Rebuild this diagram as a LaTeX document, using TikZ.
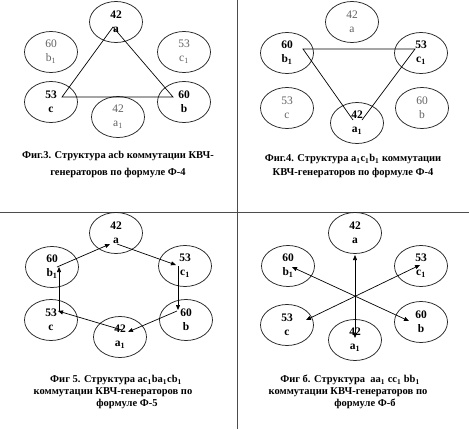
\documentclass[tikz,border=0pt]{standalone}
\usepackage{fontspec}
\setmainfont{Liberation Serif}
\usetikzlibrary{arrows.meta,shapes.geometric}
\begin{document}
\begin{tikzpicture}[x=1pt,y=-1pt,
  gen/.style={ellipse, draw=black!85, line width=0.75pt, minimum width=53pt, minimum height=41pt, inner sep=0pt, align=center},
  on/.style={gen, font=\fontsize{11.5}{14}\selectfont\bfseries, text=black},
  off/.style={gen, font=\fontsize{11.5}{14}\selectfont, text=black!62},
  captxt/.style={font=\fontsize{10.5}{12}\selectfont\bfseries, inner sep=0pt},
  link/.style={line width=0.7pt, draw=black},
  arr/.style={link, -{Triangle[length=5pt,width=4pt]}},
  both/.style={link, {Triangle[length=5pt,width=4pt]}-{Triangle[length=5pt,width=4pt]}},
  frame/.style={draw=black!70, line width=1.3pt}
]
\useasboundingbox (0,0) rectangle (469,429);
% frame dividers
\coordinate (vt) at (237.5,0);
\coordinate (vb) at (237.5,429);
\coordinate (hl) at (0,212.5);
\coordinate (hr) at (469,212.5);
\draw[frame] (vt) -- (vb);
\draw[frame] (hl) -- (hr);

% ---------- Panel 1 ----------
\node[on]  (p1a)  at (116,22)  {42\\a};
\node[off] (p1b1) at (51,52)   {60\\b\textsubscript{1}};
\node[off] (p1c1) at (184,52)  {53\\c\textsubscript{1}};
\node[on]  (p1c)  at (51,102)  {53\\c};
\node[on]  (p1b)  at (184,102) {60\\b};
\node[off] (p1a1) at (118,117) {42\\a\textsubscript{1}};
\coordinate (t1a) at ([shift={(-3,5)}]p1a.center);
\coordinate (t1c) at ([shift={(11,-5)}]p1c.center);
\coordinate (t1b) at ([shift={(-11,-5)}]p1b.center);
\draw[link] (t1a) -- (t1c) -- (t1b) -- cycle;
\node[captxt] (cap1a) at (118,156) {Фиг.3. Структура acb коммутации КВЧ-};
\node[captxt] (cap1b) at (118,173) {генераторов по формуле Ф-4};

% ---------- Panel 2 ----------
\node[off] (p2a)  at (352,22)  {42\\a};
\node[on]  (p2b1) at (287,53)  {60\\b\textsubscript{1}};
\node[on]  (p2c1) at (421,53)  {53\\c\textsubscript{1}};
\node[off] (p2c)  at (287,108) {53\\c};
\node[off] (p2b)  at (422,108) {60\\b};
\node[on]  (p2a1) at (357,123) {42\\a\textsubscript{1}};
\coordinate (t2b1) at ([shift={(16,-4)}]p2b1.center);
\coordinate (t2c1) at ([shift={(-6,-4)}]p2c1.center);
\coordinate (t2a1l) at ([shift={(-4,-3)}]p2a1.center);
\coordinate (t2a1r) at ([shift={(5,-3)}]p2a1.center);
\draw[link] (t2a1l) -- (t2b1) -- (t2c1) -- (t2a1r);
\node[captxt] (cap2a) at (353,159) {Фиг.4. Структура a\textsubscript{1}c\textsubscript{1}b\textsubscript{1} коммутации};
\node[captxt] (cap2b) at (353,173) {КВЧ-генераторов по формуле Ф-4};

% ---------- Panel 3 ----------
\node[on] (p3a)  at (116,233) {42\\a};
\node[on] (p3b1) at (52,267)  {60\\b\textsubscript{1}};
\node[on] (p3c1) at (185,266) {53\\c\textsubscript{1}};
\node[on] (p3c)  at (51,320)  {53\\c};
\node[on] (p3b)  at (186,320) {60\\b};
\node[on] (p3a1) at (120,337) {42\\a\textsubscript{1}};
\coordinate (q3a1) at ([shift={(-6,11)}]p3a.center);
\coordinate (q3a2) at ([shift={(1,11)}]p3a.center);
\coordinate (q3c1a) at ([shift={(-9,-1)}]p3c1.center);
\coordinate (q3c1b) at ([shift={(-7,0)}]p3c1.center);
\coordinate (q3ba) at ([shift={(-8,-10)}]p3b.center);
\coordinate (q3bb) at ([shift={(-9,-9)}]p3b.center);
\coordinate (q3a1a) at ([shift={(8,-5)}]p3a1.center);
\coordinate (q3a1b) at ([shift={(2,-7)}]p3a1.center);
\coordinate (q3ca) at ([shift={(7,-9)}]p3c.center);
\coordinate (q3cb) at ([shift={(8,-9)}]p3c.center);
\coordinate (q3b1a) at ([shift={(7,0)}]p3b1.center);
\coordinate (q3b1b) at ([shift={(5,0)}]p3b1.center);
\draw[arr] (q3a2) -- (q3c1a);
\draw[arr] (q3c1b) -- (q3ba);
\draw[arr] (q3bb) -- (q3a1a);
\draw[arr] (q3a1b) -- (q3ca);
\draw[arr] (q3cb) -- (q3b1a);
\draw[arr] (q3b1b) -- (q3a1);
\node[captxt] (cap3a) at (116,380) {Фиг 5. Структура ac\textsubscript{1}ba\textsubscript{1}cb\textsubscript{1}};
\node[captxt] (cap3b) at (113,392) {коммутации КВЧ-генераторов по};
\node[captxt] (cap3c) at (127,404) {формуле Ф-5};

% ---------- Panel 4 ----------
\node[on] (p4a)  at (355,233) {42\\a};
\node[on] (p4b1) at (288,266) {60\\b\textsubscript{1}};
\node[on] (p4c1) at (421,266) {53\\c\textsubscript{1}};
\node[on] (p4c)  at (287,325) {53\\c};
\node[on] (p4b)  at (421,322) {60\\b};
\node[on] (p4a1) at (355,340) {42\\a\textsubscript{1}};
\coordinate (r4a) at ([shift={(0,22)}]p4a.center);
\coordinate (r4a1) at ([shift={(0,-2)}]p4a1.center);
\coordinate (r4b1) at ([shift={(4,1)}]p4b1.center);
\coordinate (r4b) at ([shift={(-12,-1)}]p4b.center);
\coordinate (r4c1) at ([shift={(-1,-1)}]p4c1.center);
\coordinate (r4c) at ([shift={(19,-5)}]p4c.center);
\draw[both] (r4a) -- (r4a1);
\draw[both] (r4b1) -- (r4b);
\draw[both] (r4c1) -- (r4c);
\node[captxt] (cap4a) at (350,380) {Фиг б. Структура\ \ aa\textsubscript{1} cc\textsubscript{1} bb\textsubscript{1}};
\node[captxt] (cap4b) at (348,392) {коммутации КВЧ-генераторов по};
\node[captxt] (cap4c) at (365,404) {формуле Ф-б};
\end{tikzpicture}
\end{document}
